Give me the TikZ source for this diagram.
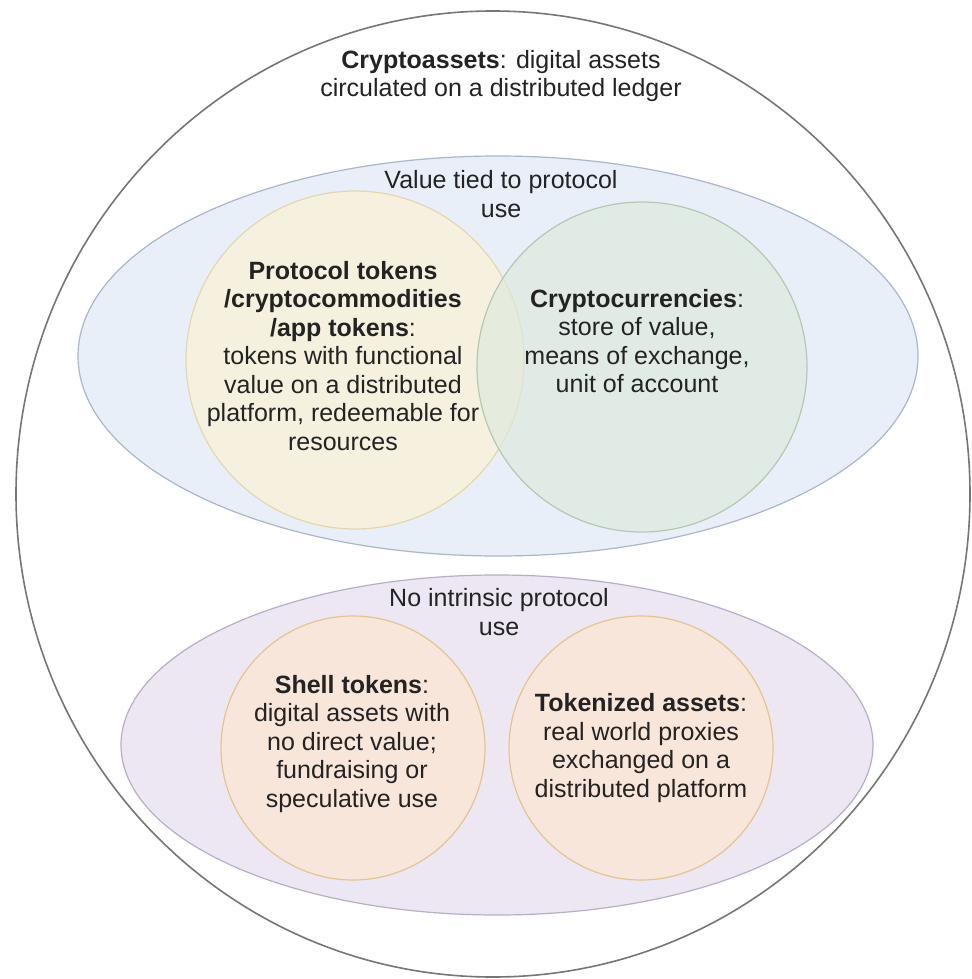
\documentclass[tikz,border=0pt]{standalone}
\usepackage{fontspec}
\setmainfont{Liberation Sans}
\definecolor{ringline}{HTML}{767676}
\definecolor{bluefill}{HTML}{E8EFF9}
\definecolor{blueline}{HTML}{A9B7CB}
\definecolor{yellowfill}{HTML}{F6F1DF}
\definecolor{yellowline}{HTML}{E4D8AA}
\definecolor{greenfill}{HTML}{DEEADD}
\definecolor{greenline}{HTML}{B4C9B0}
\definecolor{purplefill}{HTML}{ECE7F3}
\definecolor{purpleline}{HTML}{B8AEC8}
\definecolor{peachfill}{HTML}{F9E6DA}
\definecolor{peachline}{HTML}{E2C78C}
\definecolor{inktext}{HTML}{232323}
\begin{document}
\begin{tikzpicture}[x=1pt,y=-1pt,
  outerring/.style={draw=ringline,line width=1.6pt},
  bluegroup/.style={fill=bluefill,draw=blueline,line width=1.2pt},
  purplegroup/.style={fill=purplefill,draw=purpleline,line width=1.2pt},
  yellowset/.style={fill=yellowfill,draw=yellowline,line width=1.2pt},
  greenset/.style={fill=greenfill,fill opacity=0.65,draw=greenline,draw opacity=1,line width=1.2pt},
  peachset/.style={fill=peachfill,draw=peachline,line width=1.2pt},
  caption/.style={align=center,inner sep=0pt,text=inktext,
    font=\fontsize{25}{28.5}\selectfont}]
\useasboundingbox (0,0) rectangle (971,979);
\fill[white] (0,0) rectangle (971,979);

% outer boundary: all cryptoassets
\draw[outerring] (493,494) ellipse [x radius=477, y radius=483];

% value tied to protocol use
\draw[bluegroup] (498,356) ellipse [x radius=420, y radius=200];
\draw[yellowset] (355,360) circle [radius=169];
\draw[greenset] (642,367) circle [radius=165];

% no intrinsic protocol use
\draw[purplegroup] (497,745) ellipse [x radius=376, y radius=170];
\draw[peachset] (353,748) circle [radius=132];
\draw[peachset] (641,748) circle [radius=132];

% labels
\node[caption] (title) at (501,76)
  {\textbf{Cryptoassets}: digital assets\\circulated on a distributed ledger};
\node[caption] (valuetied) at (501,194) {Value tied to protocol\\use};
\node[caption] (protocol) at (343,356)
  {\textbf{Protocol tokens}\\\textbf{/cryptocommodities}\\\textbf{/app tokens}:\\tokens with functional\\value on a distributed\\platform, redeemable for\\resources};
\node[caption] (crypto) at (637,341)
  {\textbf{Cryptocurrencies}:\\store of value,\\means of exchange,\\unit of account};
\node[caption] (nointrinsic) at (499,612) {No intrinsic protocol\\use};
\node[caption] (shell) at (352,744)
  {\textbf{Shell tokens}:\\digital assets with\\no direct value;\\fundraising or\\speculative use};
\node[caption] (tokenized) at (641,748)
  {\textbf{Tokenized assets}:\\real world proxies\\exchanged on a\\distributed platform};
\end{tikzpicture}
\end{document}
